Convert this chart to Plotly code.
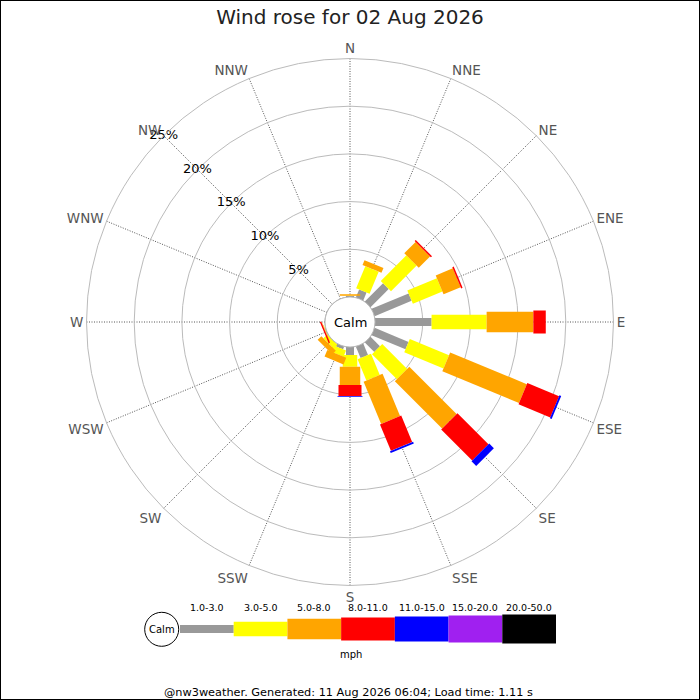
import numpy as np
import plotly.graph_objects as go

# wind directions (compass degrees, clockwise from N)
directions = ["N", "NNE", "NE", "ENE", "E", "ESE", "SE", "SSE",
              "S", "SSW", "SW", "WSW", "W", "WNW", "NW", "NNW"]
dir_degrees = [i * 22.5 for i in range(16)]

# speed bins (mph) and their colours
speed_bins = ["1.0-3.0", "3.0-5.0", "5.0-8.0", "8.0-11.0", "11.0-15.0", "15.0-20.0", "20.0-50.0"]
bin_colors = ["#999999", "#ffff00", "#ffa500", "#ff0000", "#0000ff", "#a020f0", "#000000"]
bin_widths = [8, 14.5, 20.5, 23, 25, 27, 29]   # bar thickness in px

# frequency (%) of each speed bin per direction
freq_1_3 = [0.1, 0.9, 2.7, 4.2, 5.93, 3.85, 1.4, 1.3, 0.84, 0.3, 0.0, 0.05, 0, 0, 0, 0]
freq_3_5 = [0.04, 2.5, 3.8, 3.35, 5.77, 4.45, 3.7, 2.4, 1.22, 0.7, 0.55, 0.05, 0, 0, 0, 0]
freq_5_8 = [0.14, 0.55, 1.67, 1.94, 4.9, 8.7, 7.0, 4.8, 1.92, 0.75, 0.55, 0.05, 0, 0, 0, 0]
freq_8_11 = [0, 0, 0.16, 0.16, 1.3, 3.6, 4.6, 3.0, 1.15, 0, 0, 0.15, 0, 0, 0, 0]
freq_11_15 = [0, 0, 0, 0, 0, 0.2, 0.7, 0.2, 0.09, 0, 0, 0, 0, 0, 0, 0]
freq_15_20 = [0] * 16
freq_20_50 = [0] * 16

ring_values = [5, 10, 15, 20, 25]

freqs = np.array([freq_1_3, freq_3_5, freq_5_8, freq_8_11, freq_11_15, freq_15_20, freq_20_50])
tops = np.cumsum(freqs, axis=0)
bottoms = tops - freqs

# polar area placement (pixels in a 700x700 page)
W = H = 700
cx, cy, R = 350, 322, 263.5
hole_px = 25
dom_x = [(cx - R) / W, (cx + R) / W]
dom_y = [1 - (cy + R) / H, 1 - (cy - R) / H]

fig = go.Figure()

# stacked bars drawn as thick radial line segments (rectangular bars)
for b in range(len(speed_bins)):
    r, th = [], []
    for d in range(16):
        if freqs[b, d] > 0:
            r += [bottoms[b, d], tops[b, d], None]
            th += [dir_degrees[d], dir_degrees[d], None]
    if r:
        fig.add_trace(go.Scatterpolar(r=r, theta=th, mode="lines",
                                      line=dict(color=bin_colors[b], width=bin_widths[b]),
                                      showlegend=False, hoverinfo="skip"))

# calm circle edge
circ = np.linspace(0, 360, 121)
fig.add_trace(go.Scatterpolar(r=[0] * len(circ), theta=circ, mode="lines",
                              line=dict(color="#999999", width=1),
                              showlegend=False, hoverinfo="skip"))

# ring percentage labels along NW
fig.add_trace(go.Scatterpolar(r=ring_values, theta=[315] * len(ring_values), mode="text",
                              text=[f"{v}%" for v in ring_values],
                              textfont=dict(size=13, color="black", family="DejaVu Sans"),
                              cliponaxis=False, showlegend=False, hoverinfo="skip"))


def note(text, x, y, size, xref="paper"):
    fig.add_annotation(x=x, y=y, xref=xref, yref="paper", text=text, showarrow=False,
                       xanchor="center", yanchor="middle",
                       font=dict(size=size, color="black"))


# legend strip as horizontal bars
for b in range(len(speed_bins)):
    fig.add_trace(go.Bar(x=[1], base=[b], y=[0], orientation="h", width=[bin_widths[b]],
                         marker=dict(color=bin_colors[b], line=dict(width=0)),
                         showlegend=False, hoverinfo="skip"))
    note(speed_bins[b], b + 0.5, 1 - 607.7 / H, 9.5, xref="x")

fig.update_layout(
    width=W, height=H,
    margin=dict(l=0, r=0, t=0, b=0),
    paper_bgcolor="white",
    font=dict(family="DejaVu Sans"),
    title=dict(text="Wind rose for 02 Aug 2026", x=0.5, xanchor="center",
               y=1 - 17 / H, yanchor="middle",
               font=dict(size=20, color="#222222")),
    barmode="overlay",
    polar=dict(
        domain=dict(x=dom_x, y=dom_y),
        hole=hole_px / R,
        bgcolor="white",
        radialaxis=dict(range=[0, 25], tickvals=ring_values, showticklabels=False,
                        showline=False, ticks="", gridcolor="#bbbbbb", gridwidth=1),
        angularaxis=dict(direction="clockwise", rotation=90, thetaunit="degrees",
                         tickmode="array", tickvals=dir_degrees, ticktext=directions,
                         ticks="", showline=True, linecolor="#bbbbbb", linewidth=1,
                         gridcolor="#555555", griddash="1px,1.5px", gridwidth=1,
                         tickfont=dict(size=13.5, color="#555555")),
    ),
    xaxis=dict(domain=[180 / W, 556 / W], range=[0, len(speed_bins)], visible=False, fixedrange=True),
    yaxis=dict(domain=[1 - 649 / H, 1 - 609 / H], range=[-20, 20], visible=False, fixedrange=True),
    plot_bgcolor="rgba(0,0,0,0)",
)

# centre "Calm" text
note("Calm", cx / W, 1 - cy / H, 13)

# legend calm circle
lx, ly, lr = 161.7, 629.3, 17
fig.add_shape(type="circle", xref="paper", yref="paper",
              x0=(lx - lr) / W, x1=(lx + lr) / W, y0=1 - (ly + lr) / H, y1=1 - (ly - lr) / H,
              line=dict(color="black", width=1), fillcolor="white")
note("Calm", lx / W, 1 - ly / H, 10)

note("mph", 351 / W, 1 - 654 / H, 10)
note("@nw3weather. Generated: 11 Aug 2026 06:04; Load time: 1.11 s", 348 / W, 1 - 692.5 / H, 11.3)

# page border
fig.add_shape(type="rect", xref="paper", yref="paper", x0=0, x1=1, y0=0, y1=1,
              line=dict(color="black", width=2))

fig.write_html("out.html", config={"displayModeBar": False},
               post_script="document.body.style.margin='0';")
